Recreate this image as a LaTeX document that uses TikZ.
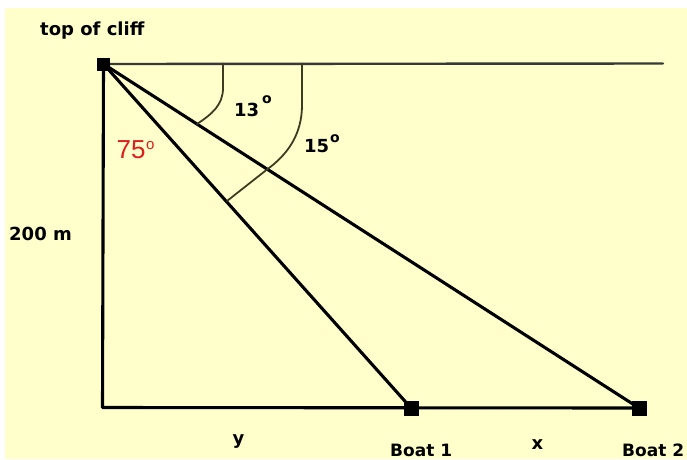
\documentclass[tikz,border=0pt]{standalone}
\usepackage{fontspec}
\newfontfamily\lblfont{DejaVu Sans}
\newfontfamily\arialfont{Liberation Sans}
\definecolor{bgyellow}{RGB}{255,255,204}
\definecolor{arcol}{RGB}{60,60,35}
\definecolor{redlab}{RGB}{220,30,30}
\begin{document}
\begin{tikzpicture}[x=1pt,y=-1pt,
  sq/.style={fill=black,draw=none,inner sep=0pt,minimum size=14pt},
  mainline/.style={line width=3.1pt,black,line cap=round,line join=round},
  topline/.style={line width=2.4pt,black!78,line cap=round},
  arcline/.style={line width=1.8pt,arcol,line cap=round},
  lbl/.style={inner sep=0pt,anchor=base west,font=\lblfont\bfseries\fontsize{17}{20}\selectfont},
  lblbig/.style={inner sep=0pt,anchor=base west,font=\lblfont\bfseries\fontsize{18}{21}\selectfont},
  deg/.style={inner sep=0pt,anchor=base west,font=\lblfont\bfseries\fontsize{14}{16}\selectfont}
]
\useasboundingbox (0,0) rectangle (687,459);
\fill[white] (0,0) rectangle (687,459);
\fill[bgyellow] (5,8) rectangle (687,459);

% named points
\coordinate (corner) at (102.5,407.5);
\coordinate (hend) at (663,63.5);
\node[sq,minimum size=13pt] (top) at (103.5,64) {};
\node[sq,minimum size=15pt] (b1) at (411.5,408.5) {};
\node[sq,minimum size=15pt] (b2) at (639,408) {};

% lines
\draw[topline] (top.center) -- (hend);
\draw[mainline] (top.center) -- (corner) -- (b2.center);
\draw[mainline] (top.center) -- (b1.center);
\draw[mainline] (top.center) -- (b2.center);

% angle marks
\coordinate (a1s) at (223,63.5);
\coordinate (a1e) at (197,124);
\coordinate (a2s) at (302,63.5);
\coordinate (a2m) at (267,169.5);
\coordinate (a2e) at (227,201);
\draw[arcline] (a1s) -- (223,88) .. controls (223,105) and (212,114) .. (a1e);
\draw[arcline] (a2s) -- (302,105) .. controls (302,135) and (287,155) .. (a2m) -- (a2e);

% redraw squares on top
\node[sq,minimum size=13pt] at (top) {};
\node[sq,minimum size=15pt] at (b1) {};
\node[sq,minimum size=15pt] at (b2) {};

% labels
\node[lblbig] (ltop) at (40,35) {top of cliff};
\node[lblbig] (l200) at (9,240) {200 m};
\node[lbl] (lb1) at (390,456) {Boat 1};
\node[lbl] (lb2) at (622,456) {Boat 2};
\node[lblbig,anchor=base] (ly) at (238.5,444) {y};
\node[lblbig,anchor=base] (lx) at (537.5,449) {x};

\node[lblbig] (l13) at (234,116) {13};
\node[deg] (l13o) at (262,103) {o};
\node[lblbig] (l15) at (304,152) {15};
\node[deg] (l15o) at (330,142) {o};

\node[inner sep=0pt,anchor=base west,text=redlab,font=\arialfont\fontsize{26}{28}\selectfont] (l75) at (116.5,158) {75};
\node[inner sep=0pt,anchor=base west,text=redlab,font=\arialfont\fontsize{15}{17}\selectfont] (l75o) at (146,149) {o};
\end{tikzpicture}
\end{document}
